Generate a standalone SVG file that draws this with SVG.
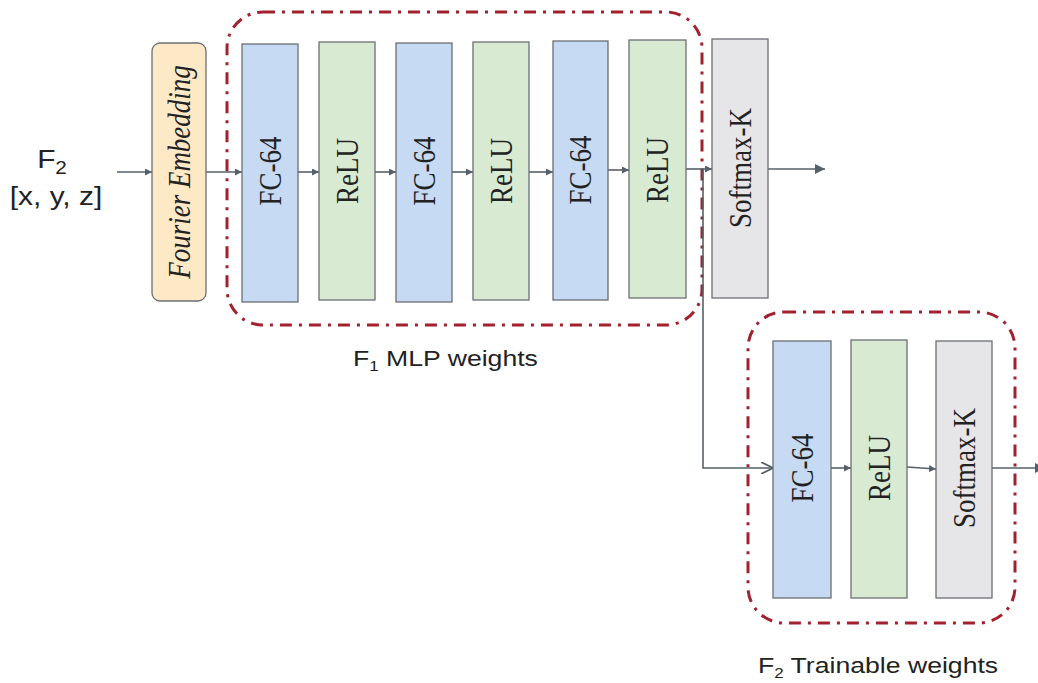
<svg xmlns="http://www.w3.org/2000/svg" width="1038" height="683" viewBox="0 0 1038 683">
  <style>
    .blk { stroke: #6b6f73; stroke-width: 1.3; }
    .fc { fill: #c6daf3; }
    .relu { fill: #d9ead3; }
    .soft { fill: #e6e6e8; }
    .emb { fill: #fde9c6; }
    .lbl { font-family: "Liberation Serif", "Times New Roman", serif; font-size: 27px; fill: #222; text-anchor: middle; dominant-baseline: central; }
    .cap { font-family: "Liberation Sans", Arial, sans-serif; fill: #222; }
    .grp { fill: none; stroke: #a3202f; stroke-width: 3; stroke-dasharray: 12 7 3 7; }
    .wire { fill: none; stroke: #56606a; stroke-width: 1.6; }
  </style>
  <defs>
    <marker id="arr" viewBox="0 0 10 10" refX="10" refY="5" markerWidth="7" markerHeight="7" markerUnits="userSpaceOnUse" orient="auto">
      <path d="M0,0 L10,5 L0,10 Z" fill="#56606a"/>
    </marker>
    <marker id="arrBig" viewBox="0 0 10 10" refX="10" refY="5" markerWidth="11" markerHeight="10" markerUnits="userSpaceOnUse" orient="auto">
      <path d="M0,0 L10,5 L0,10 Z" fill="#56606a"/>
    </marker>
    <marker id="open" viewBox="0 0 10 10" refX="10" refY="5" markerWidth="12" markerHeight="12" markerUnits="userSpaceOnUse" orient="auto">
      <path d="M0,0 L10,5 L0,10" fill="none" stroke="#56606a" stroke-width="1.5"/>
    </marker>
  </defs>

  <!-- grouping frames -->
  <g id="frame-f1">
    <rect class="grp" x="227" y="12" width="475" height="313" rx="36"/>
    <text class="cap" font-size="22" transform="translate(353,366) scale(1.21,1)">F<tspan font-size="14" dy="5">1</tspan><tspan dy="-5"> MLP weights</tspan></text>
  </g>
  <g id="frame-f2">
    <rect class="grp" x="748" y="312" width="267" height="311" rx="36"/>
    <text class="cap" font-size="22" transform="translate(758,673) scale(1.21,1)">F<tspan font-size="14" dy="5">2</tspan><tspan dy="-5"> Trainable weights</tspan></text>
  </g>

  <!-- input label -->
  <g id="input">
    <text class="cap" font-size="26" text-anchor="middle" transform="translate(52,168) scale(1.15,1)">F<tspan font-size="18" dy="6">2</tspan></text>
    <text class="cap" font-size="26" text-anchor="middle" transform="translate(56,205) scale(1.15,1)">[x, y, z]</text>
  </g>

  <!-- connectors -->
  <g id="connectors">
    <line class="wire" x1="117" y1="172" x2="152" y2="172" marker-end="url(#arr)"/>
    <line class="wire" x1="206" y1="172" x2="242" y2="172" marker-end="url(#arr)"/>
    <line class="wire" x1="298" y1="172" x2="319" y2="172" marker-end="url(#arr)"/>
    <line class="wire" x1="375" y1="172" x2="396" y2="172" marker-end="url(#arr)"/>
    <line class="wire" x1="452" y1="172" x2="473" y2="172" marker-end="url(#arr)"/>
    <line class="wire" x1="529" y1="172" x2="553" y2="172" marker-end="url(#arr)"/>
    <line class="wire" x1="608" y1="170" x2="629" y2="170" marker-end="url(#arr)"/>
    <line class="wire" x1="686" y1="169" x2="712" y2="169" marker-end="url(#arr)"/>
    <line class="wire" x1="768" y1="169" x2="825" y2="169" marker-end="url(#arrBig)"/>
    <polyline class="wire" points="703,169 703,468 773,468" marker-end="url(#open)"/>
    <line class="wire" x1="831" y1="468" x2="851" y2="468" marker-end="url(#arr)"/>
    <line class="wire" x1="907" y1="467" x2="936" y2="469" marker-end="url(#arr)"/>
    <line class="wire" x1="992" y1="468" x2="1045" y2="468" marker-end="url(#arrBig)"/>
  </g>

  <!-- nodes -->
  <g id="fourier-embedding">
    <rect class="blk emb" x="152" y="43" width="54" height="258" rx="8"/>
    <text class="lbl" font-style="italic" font-size="26.5" transform="translate(179,172) rotate(-90) scale(1,1.15)">Fourier Embedding</text>
  </g>
  <g id="fc64-1">
    <rect class="blk fc" x="242" y="44" width="56" height="258"/>
    <text class="lbl" transform="translate(270,171) rotate(-90) scale(1,1.15)">FC-64</text>
  </g>
  <g id="relu-1">
    <rect class="blk relu" x="319" y="42" width="56" height="258"/>
    <text class="lbl" transform="translate(347,171) rotate(-90) scale(1,1.15)">ReLU</text>
  </g>
  <g id="fc64-2">
    <rect class="blk fc" x="396" y="43" width="56" height="259"/>
    <text class="lbl" transform="translate(424,171) rotate(-90) scale(1,1.15)">FC-64</text>
  </g>
  <g id="relu-2">
    <rect class="blk relu" x="473" y="42" width="56" height="258"/>
    <text class="lbl" transform="translate(501,171) rotate(-90) scale(1,1.15)">ReLU</text>
  </g>
  <g id="fc64-3">
    <rect class="blk fc" x="553" y="41" width="55" height="259"/>
    <text class="lbl" transform="translate(580.5,170) rotate(-90) scale(1,1.15)">FC-64</text>
  </g>
  <g id="relu-3">
    <rect class="blk relu" x="629" y="40" width="57" height="258"/>
    <text class="lbl" transform="translate(657.5,170) rotate(-90) scale(1,1.15)">ReLU</text>
  </g>
  <g id="softmax-1">
    <rect class="blk soft" x="712" y="39" width="56" height="259"/>
    <text class="lbl" transform="translate(740,168) rotate(-90) scale(1,1.15)">Softmax-K</text>
  </g>
  <g id="fc64-4">
    <rect class="blk fc" x="773" y="341" width="58" height="257"/>
    <text class="lbl" transform="translate(802,468) rotate(-90) scale(1,1.15)">FC-64</text>
  </g>
  <g id="relu-4">
    <rect class="blk relu" x="851" y="340" width="56" height="258"/>
    <text class="lbl" transform="translate(879,468) rotate(-90) scale(1,1.15)">ReLU</text>
  </g>
  <g id="softmax-2">
    <rect class="blk soft" x="936" y="341" width="56" height="257"/>
    <text class="lbl" transform="translate(964,468) rotate(-90) scale(1,1.15)">Softmax-K</text>
  </g>
</svg>
